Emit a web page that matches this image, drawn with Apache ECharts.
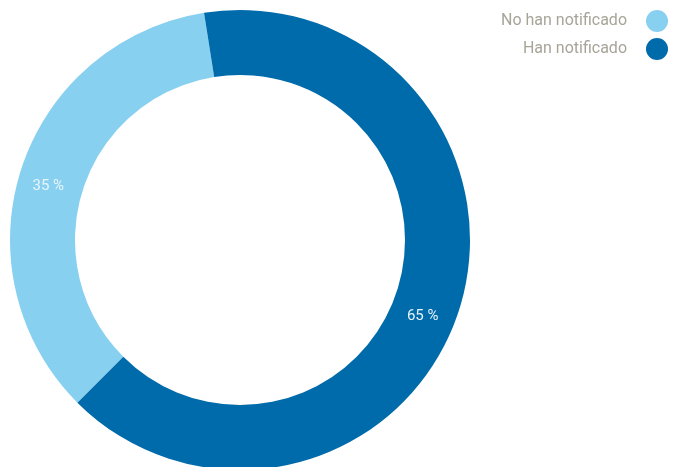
<!DOCTYPE html>
<html>
<head>
<meta charset="utf-8">
<script src="https://cdn.jsdelivr.net/npm/echarts@6/dist/echarts.min.js"></script>
<style>
  html, body { margin: 0; padding: 0; background: #fff; }
  #chart { width: 680px; height: 467px; }
</style>
</head>
<body>
<div id="chart"></div>
<script>
// Notification status shares (percent)
const categories = ['No han notificado', 'Han notificado'];
const values = [35, 65];
const colors = ['#87d0f0', '#006bab'];
// small nudges of each percentage label inside its ring segment
const labelOffsets = [[-1, 8], [-8, 14]];

const chart = echarts.init(document.getElementById('chart'), null, { renderer: 'canvas' });

chart.setOption({
  animation: false,
  legend: {
    orient: 'vertical',
    right: 7,
    top: 5,
    align: 'right',
    icon: 'circle',
    itemWidth: 22,
    itemHeight: 22,
    itemGap: 6,
    textStyle: {
      color: '#a7a498',
      fontSize: 16,
      padding: [0, 14, 0, 0],
      fontFamily: 'Roboto, "Liberation Sans", sans-serif'
    },
    data: categories
  },
  series: [{
    type: 'pie',
    center: [240, 240],
    radius: [165, 230],
    startAngle: 225,
    clockwise: true,
    avoidLabelOverlap: false,
    label: {
      show: true,
      position: 'inside',
      formatter: '{c} %',
      color: '#e8f4fb',
      fontSize: 15,
      fontFamily: 'Roboto, "Liberation Sans", sans-serif'
    },
    labelLine: { show: false },
    emphasis: { disabled: true },
    data: categories.map((name, i) => ({
      name: name,
      value: values[i],
      itemStyle: { color: colors[i] },
      label: { offset: labelOffsets[i] }
    }))
  }]
});
</script>
</body>
</html>
